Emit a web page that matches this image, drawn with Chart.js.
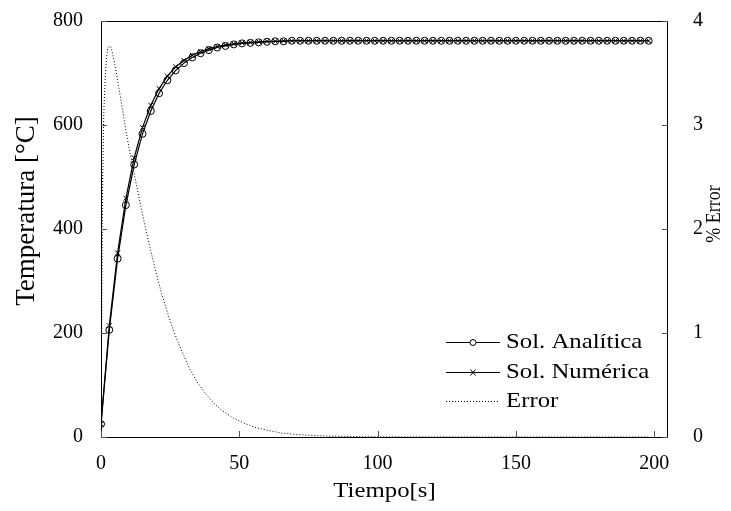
<!DOCTYPE html>
<html lang="es">
<head>
<meta charset="UTF-8">
<title>Temperatura vs Tiempo</title>
<style>
  html, body { margin: 0; padding: 0; background: #fff; }
  #wrap { width: 731px; height: 511px; }
</style>
</head>
<body>
<div id="wrap"><canvas id="tempChart"></canvas></div>

<script src="https://cdn.jsdelivr.net/npm/chart.js@4.4.0/dist/chart.umd.min.js"></script>
<script>
// tiempo [s] de cada punto marcado
const tiempo = [0, 3, 6, 9, 12, 15, 18, 21, 24, 27, 30, 33, 36, 39, 42, 45, 48, 51, 54, 57,
    60, 63, 66, 69, 72, 75, 78, 81, 84, 87, 90, 93, 96, 99, 102, 105, 108, 111, 114, 117,
    120, 123, 126, 129, 132, 135, 138, 141, 144, 147, 150, 153, 156, 159, 162, 165, 168, 171, 174, 177,
    180, 183, 186, 189, 192, 195, 198];

// temperatura [°C]
const tempAnalitica = [25, 206, 343, 446, 524, 583, 627, 661, 686, 705, 719, 730, 738, 744, 749, 752, 755, 757, 758, 759,
    760, 761, 761, 762, 762, 762, 762, 762, 762, 762, 762, 762, 762, 762, 762, 762, 762, 762, 762, 762,
    762, 762, 762, 762, 762, 762, 762, 762, 762, 762, 762, 762, 762, 762, 762, 762, 762, 762, 762, 762,
    762, 762, 762, 762, 762, 762, 762];

const tempNumerica = [25, 214, 354, 459, 537, 595, 638, 670, 694, 712, 724, 734, 741, 747, 751, 754, 756, 758, 759, 760,
    761, 761, 762, 762, 762, 762, 762, 762, 762, 762, 762, 762, 762, 762, 762, 762, 762, 762, 762, 762,
    762, 762, 762, 762, 762, 762, 762, 762, 762, 762, 762, 762, 762, 762, 762, 762, 762, 762, 762, 762,
    762, 762, 762, 762, 762, 762, 762];

// % error (eje derecho)
const errorTiempo = [0, 0.5, 1, 1.5, 2, 2.5, 3, 3.5, 4, 5, 6, 7, 8, 9, 10, 11, 12, 14, 16, 18,
    20, 22, 24, 26, 28, 30, 32, 35, 38, 41, 44, 48, 52, 56, 60, 65, 70, 80, 90, 100,
    120, 150, 198];
const errorPorcentaje = [0, 2.3, 3.1, 3.45, 3.65, 3.74, 3.76, 3.75, 3.71, 3.58, 3.43, 3.27, 3.11, 2.95, 2.8, 2.66, 2.53, 2.27, 2.02, 1.79,
    1.57, 1.37, 1.2, 1.04, 0.9, 0.78, 0.66, 0.52, 0.41, 0.32, 0.25, 0.18, 0.13, 0.09, 0.065, 0.04, 0.025, 0.01, 0.004, 0.002,
    0.0005, 0, 0];

const etiquetas = ['Sol. Analítica', 'Sol. Numérica', 'Error'];

const serif = "'Liberation Serif', 'Times New Roman', serif";

// marco, ticks hacia dentro, leyenda y titulos de ejes
const extras = {
    id: 'extras',
    afterDraw(chart) {
        const { ctx, chartArea: a, scales } = chart;
        ctx.save();

        ctx.strokeStyle = '#000';
        ctx.lineWidth = 1;
        ctx.strokeRect(a.left + 0.5, a.top + 0.5, a.right - a.left - 1, a.bottom - a.top);

        ctx.strokeStyle = '#555';
        ctx.beginPath();
        scales.x.ticks.forEach(t => {
            const px = Math.round(scales.x.getPixelForValue(t.value)) + 0.5;
            ctx.moveTo(px, a.bottom);
            ctx.lineTo(px, a.bottom - 6);
        });
        scales.y.ticks.forEach(t => {
            const py = Math.round(scales.y.getPixelForValue(t.value)) + 0.5;
            ctx.moveTo(a.left, py);
            ctx.lineTo(a.left + 6, py);
        });
        scales.y2.ticks.forEach(t => {
            const py = Math.round(scales.y2.getPixelForValue(t.value)) + 0.5;
            ctx.moveTo(a.right, py);
            ctx.lineTo(a.right - 6, py);
        });
        ctx.stroke();

        // leyenda
        ctx.fillStyle = '#000';
        ctx.textBaseline = 'middle';
        ctx.textAlign = 'left';
        const filas = [342, 372, 401];
        filas.forEach((y, i) => {
            ctx.strokeStyle = '#000';
            ctx.lineWidth = 1;
            ctx.setLineDash(i === 2 ? [1, 2] : []);
            ctx.beginPath();
            ctx.moveTo(446, y + 0.5);
            ctx.lineTo(500, y + 0.5);
            ctx.stroke();
            ctx.setLineDash([]);
            if (i === 0) {
                ctx.beginPath();
                ctx.arc(473, y + 0.5, 3, 0, Math.PI * 2);
                ctx.fillStyle = '#fff';
                ctx.fill();
                ctx.stroke();
            } else if (i === 1) {
                ctx.beginPath();
                ctx.moveTo(470.5, y - 2.5);
                ctx.lineTo(475.5, y + 3.5);
                ctx.moveTo(475.5, y - 2.5);
                ctx.lineTo(470.5, y + 3.5);
                ctx.stroke();
            }
            ctx.fillStyle = '#000';
            ctx.save();
            ctx.translate(506, y);
            ctx.scale(1.18, 1);
            ctx.font = '21px ' + serif;
            ctx.fillText(etiquetas[i], 0, 0);
            ctx.restore();
        });

        // titulos
        ctx.textAlign = 'center';
        ctx.save();
        ctx.translate((a.left + a.right) / 2, 491);
        ctx.scale(1.18, 1);
        ctx.font = '21px ' + serif;
        ctx.fillText('Tiempo[s]', 0, 0);
        ctx.restore();

        ctx.save();
        ctx.translate(27, 211);
        ctx.rotate(-Math.PI / 2);
        ctx.font = '27px ' + serif;
        ctx.fillText('Temperatura [°C]', 0, 0);
        ctx.restore();

        ctx.save();
        ctx.translate(714, 214);
        ctx.scale(1.2, 1);
        ctx.rotate(-Math.PI / 2);
        ctx.font = '18px ' + serif;
        ctx.fillText('% Error', 0, 0);
        ctx.restore();

        ctx.restore();
    }
};

const tickFont = { family: serif, size: 20 };

// el padding de los ticks no debe empujar el area del grafico
const sinPaddingVertical = s => {
    s.paddingTop = 0;
    s.paddingBottom = 0;
};

const config = {
    type: 'line',
    data: {
        datasets: [
            {
                label: etiquetas[0],
                data: tiempo.map((t, i) => ({ x: t, y: tempAnalitica[i] })),
                borderColor: '#000',
                borderWidth: 1.2,
                pointStyle: 'circle',
                pointRadius: 3.5,
                pointBorderWidth: 1,
                pointBorderColor: '#000',
                pointBackgroundColor: 'rgba(255,255,255,0)',
                yAxisID: 'y'
            },
            {
                label: etiquetas[1],
                data: tiempo.map((t, i) => ({ x: t, y: tempNumerica[i] })),
                borderColor: '#000',
                borderWidth: 1.2,
                pointStyle: 'crossRot',
                pointRadius: 3.5,
                pointBorderWidth: 1,
                pointBorderColor: '#000',
                yAxisID: 'y'
            },
            {
                label: etiquetas[2],
                data: errorTiempo.map((t, i) => ({ x: t, y: errorPorcentaje[i] })),
                borderColor: '#000',
                borderWidth: 1,
                borderDash: [1, 2],
                pointRadius: 0,
                yAxisID: 'y2'
            }
        ]
    },
    options: {
        responsive: true,
        maintainAspectRatio: false,
        animation: false,
        layout: { padding: { top: 21, left: 0, right: 0, bottom: 0 } },
        plugins: {
            legend: { display: false },
            tooltip: { enabled: false }
        },
        scales: {
            x: {
                type: 'linear',
                min: 0,
                max: 205,
                grid: { display: false, drawTicks: false },
                border: { display: false },
                ticks: { stepSize: 50, includeBounds: false, font: tickFont, color: '#000', padding: 15, maxRotation: 0 },
                afterFit: s => { s.height = 74; s.paddingLeft = 0; s.paddingRight = 0; }
            },
            y: {
                position: 'left',
                min: 0,
                max: 800,
                grid: { display: false, drawTicks: false },
                border: { display: false },
                ticks: { stepSize: 200, font: tickFont, color: '#000', padding: 18 },
                afterFit: s => { s.width = 101; sinPaddingVertical(s); }
            },
            y2: {
                position: 'right',
                min: 0,
                max: 4,
                grid: { display: false, drawTicks: false },
                border: { display: false },
                ticks: { stepSize: 1, font: tickFont, color: '#000', padding: 25 },
                afterFit: s => { s.width = 63; sinPaddingVertical(s); }
            }
        }
    },
    plugins: [extras]
};

new Chart(document.getElementById('tempChart').getContext('2d'), config);
</script>
</body>
</html>
